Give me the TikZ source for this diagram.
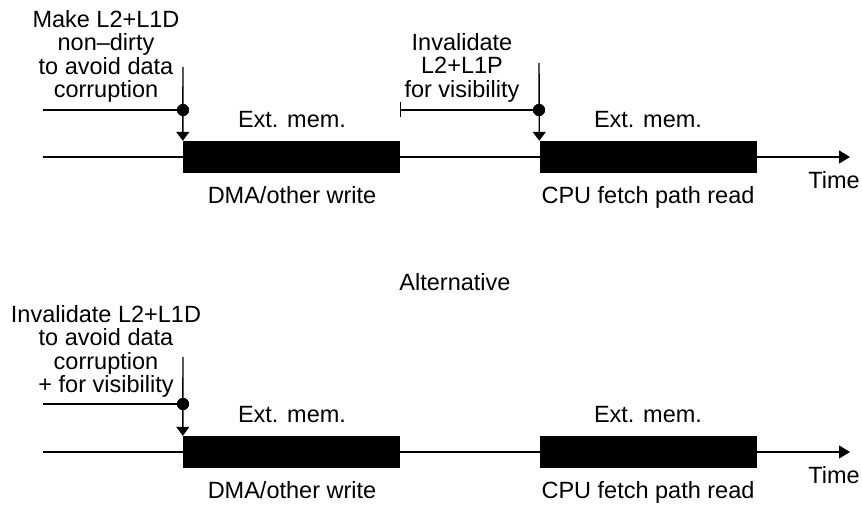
\documentclass[tikz,border=0pt]{standalone}
\usepackage{fontspec}
\setmainfont{Liberation Sans}
\usetikzlibrary{arrows.meta}
\tikzset{
  lbl/.style={inner sep=0pt, font=\fontsize{23.5}{23.5}\selectfont, align=center},
  bar/.style={fill=black, draw=none, inner sep=0pt, minimum width=217pt, minimum height=32pt},
  axisline/.style={line width=1.4pt, -{Triangle[length=11pt,width=13pt]}},
  markline/.style={line width=1.4pt, -{Triangle[length=9pt,width=13pt]}},
  plainline/.style={line width=1.4pt},
  dotnode/.style={circle, fill=black, inner sep=0pt, minimum size=12pt},
}
\begin{document}
\begin{tikzpicture}[x=1pt,y=-1pt]
\useasboundingbox (0,0) rectangle (862,508);

% ---------- top timeline ----------
\node[bar] (b1) at (291.5,157) {};
\node[bar] (b2) at (648,157) {};
\coordinate (t0) at (43,157);
\coordinate (t1) at (850,157);
\draw[axisline] (t0) -- (t1);
\node[bar] at (b1) {};
\node[bar] at (b2) {};

\coordinate (m1top) at (183,67);
\node[dotnode] (d1) at (183,110) {};
\coordinate (h1) at (43,110);
\draw[plainline] (h1) -- (d1.center);
\draw[markline] (m1top) -- (b1.north west);
\node[dotnode] at (d1) {};

\coordinate (m2top) at (539,63);
\node[dotnode] (d2) at (539,110) {};
\coordinate (h2) at (400,110);
\draw[plainline, {Bar[width=15pt]}-] (h2) -- (d2.center);
\draw[markline] (m2top) -- (b2.north west);
\node[dotnode] at (d2) {};

\node[lbl, anchor=north] (n1) at (106,10) {Make L2+L1D\\non--dirty\\to avoid data\\corruption};
\node[lbl, anchor=north] (n2) at (462,33) {Invalidate\\L2+L1P\\for visibility};
\node[lbl, anchor=base] (e1) at (292,128) {Ext. mem.};
\node[lbl, anchor=base] (e2) at (648,128) {Ext. mem.};
\node[lbl, anchor=base] (w1) at (292,203) {DMA/other write};
\node[lbl, anchor=base] (r1) at (648,203) {CPU fetch path read};
\node[lbl, anchor=base] (time1) at (834,188) {Time};

% ---------- alternative ----------
\node[lbl, anchor=base] (alt) at (455,290) {Alternative};

\node[bar] (b3) at (291.5,452) {};
\node[bar] (b4) at (648,452) {};
\coordinate (t2) at (43,452);
\coordinate (t3) at (850,452);
\draw[axisline] (t2) -- (t3);
\node[bar] at (b3) {};
\node[bar] at (b4) {};

\coordinate (m3top) at (183,357);
\node[dotnode] (d3) at (183,404) {};
\coordinate (h3) at (43,404);
\draw[plainline] (h3) -- (d3.center);
\draw[markline] (m3top) -- (b3.north west);
\node[dotnode] at (d3) {};

\node[lbl, anchor=north] (n3) at (106,305) {Invalidate L2+L1D\\to avoid data\\corruption\\+ for visibility};
\node[lbl, anchor=base] (e3) at (292,422) {Ext. mem.};
\node[lbl, anchor=base] (e4) at (648,422) {Ext. mem.};
\node[lbl, anchor=base] (w2) at (292,498) {DMA/other write};
\node[lbl, anchor=base] (r2) at (648,498) {CPU fetch path read};
\node[lbl, anchor=base] (time2) at (834,483) {Time};
\end{tikzpicture}
\end{document}
